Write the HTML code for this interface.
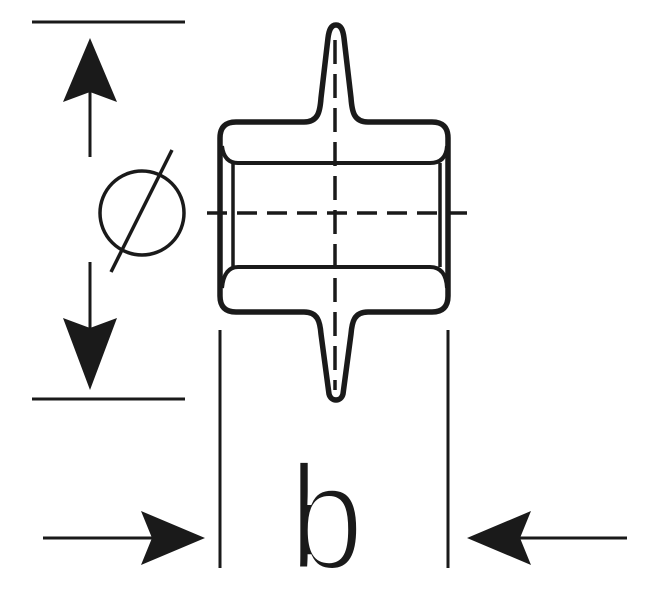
<!DOCTYPE html>
<html><head><meta charset="utf-8"><style>
html,body{margin:0;padding:0;background:#fff;width:652px;height:600px;overflow:hidden}
svg{display:block}
</style></head><body>
<svg width="652" height="600" viewBox="0 0 652 600" xmlns="http://www.w3.org/2000/svg">
<g stroke="#1a1a1a" fill="none" stroke-linecap="butt">
<line x1="32" y1="22" x2="185" y2="22" stroke-width="3"/>
<line x1="32" y1="399" x2="185" y2="399" stroke-width="3"/>
<line x1="90" y1="92" x2="90" y2="157" stroke-width="3"/>
<line x1="90" y1="262" x2="90" y2="328" stroke-width="3"/>
<circle cx="142" cy="213" r="42" stroke-width="3.5"/>
<line x1="111" y1="272" x2="172" y2="150" stroke-width="3.5"/>
<line x1="220" y1="330" x2="220" y2="568" stroke-width="3"/>
<line x1="448" y1="330" x2="448" y2="568" stroke-width="3"/>
<line x1="43" y1="538" x2="155" y2="538" stroke-width="3"/>
<line x1="515" y1="538" x2="627" y2="538" stroke-width="3"/>
<path d="M336 25 C341 25 343 30 344 38 L351 98 C352 112 354 122 368 122 L432 122 Q448 122 448 138 L448 296 Q448 312 432 312 L368 312 C354 312 352 322 351 334 L343 394 C341 402 331 402 329 394 L321 334 C320 322 318 312 304 312 L236 312 Q220 312 220 296 L220 138 Q220 122 236 122 L304 122 C318 122 320 112 321 98 L328 38 C329 30 331 25 336 25 Z" stroke-width="5.5" stroke-linejoin="round"/>
<path d="M222 146 Q224 163 238 163 L430 163 Q446 163 447 146" stroke-width="4"/>
<path d="M222 288 Q224 267 238 267 L430 267 Q446 267 447 288" stroke-width="4"/>
<line x1="233" y1="163" x2="233" y2="267" stroke-width="3.5"/>
<line x1="440" y1="163" x2="440" y2="267" stroke-width="3.5"/>
<line x1="205" y1="213" x2="468" y2="213" stroke-width="3.5" stroke-dasharray="20 10" stroke-dashoffset="-2"/>
<line x1="335" y1="40" x2="335" y2="390" stroke-width="3.5" stroke-dasharray="24 10"/>
</g>
<g fill="#1a1a1a">
<polygon points="90,38 117,102 90,92 63,102"/>
<polygon points="90,390 117,318 90,328 63,318"/>
<polygon points="205,538 141,511 152,538 141,565"/>
<polygon points="467,538 531,511 520,538 531,565"/>
</g>
<text x="289" y="569" font-family="'Liberation Sans', sans-serif" font-size="150" fill="#1a1a1a" stroke="#fff" stroke-width="5" transform="translate(289 0) scale(0.9 1) translate(-289 0)">b</text>
</svg>
</body></html>
